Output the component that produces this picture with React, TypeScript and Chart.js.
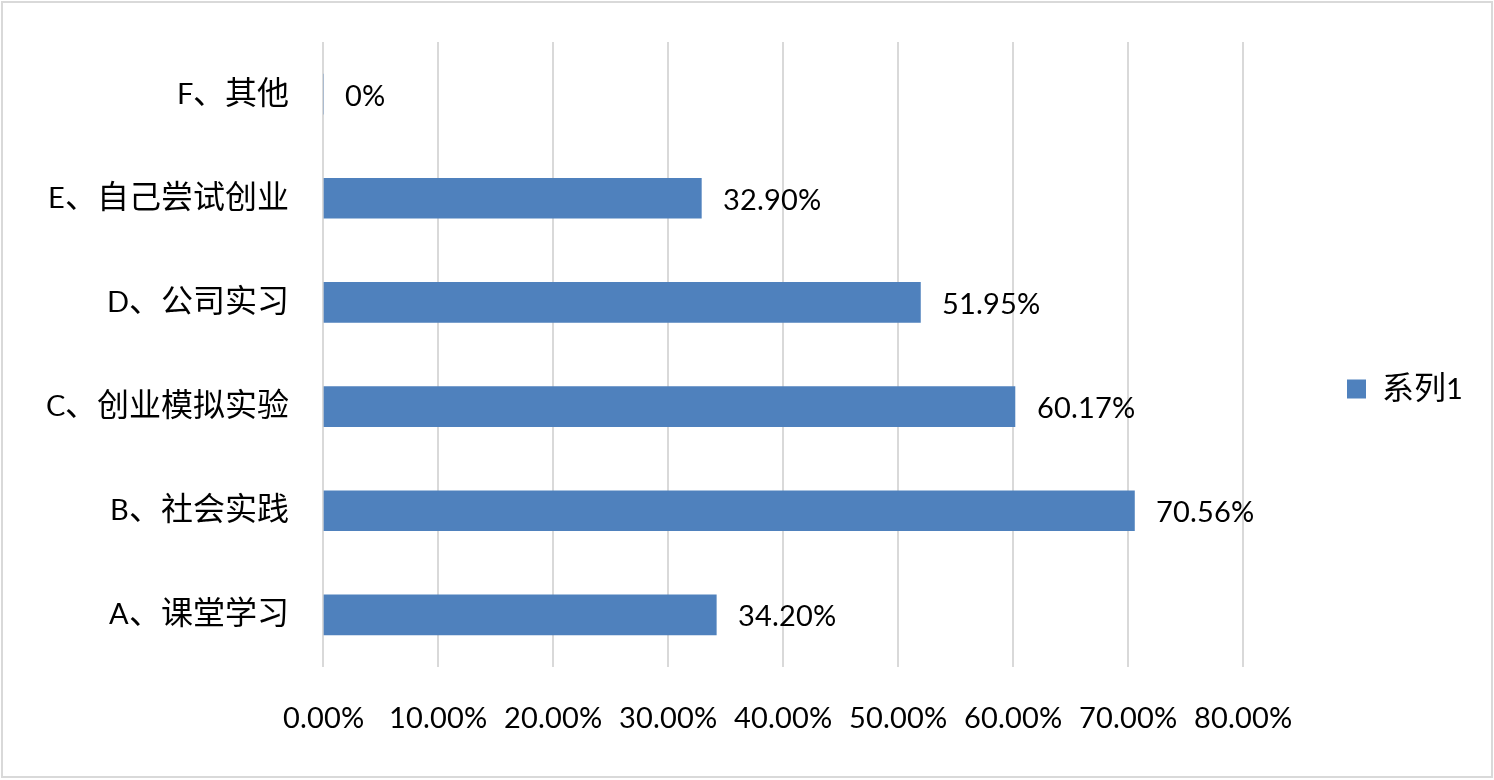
import React, { useEffect, useRef } from "react";
import { Chart, registerables } from "chart.js";

Chart.register(...registerables);

const categories = ["A、课堂学习", "B、社会实践", "C、创业模拟实验", "D、公司实习", "E、自己尝试创业", "F、其他"];
const values = [34.2, 70.56, 60.17, 51.95, 32.9, 0];
const seriesName = "系列1";
const xTicks = [0, 10, 20, 30, 40, 50, 60, 70, 80];

const FONT = "LatoAdj, 'Noto Sans CJK SC', sans-serif";
const FS = 32;
const BAR = "#4f81bd";

const valueLabels = {
  id: "valueLabels",
  afterDatasetsDraw(chart: any) {
    const ctx = chart.ctx;
    const meta = chart.getDatasetMeta(0);
    ctx.save();
    ctx.font = `${FS}px ${FONT}`;
    ctx.fillStyle = "#000";
    ctx.textAlign = "left";
    ctx.textBaseline = "middle";
    meta.data.forEach((el: any, i: number) => {
      const v = values[i];
      const txt = v === 0 ? "0%" : v.toFixed(2) + "%";
      ctx.fillText(txt, el.x + 22, el.y + 2);
    });
    ctx.restore();
  },
};

function ensureFontFace() {
  if (document.getElementById("lato-adj-style")) return;
  const st = document.createElement("style");
  st.id = "lato-adj-style";
  st.textContent = `@font-face { font-family: 'LatoAdj'; src: local('Lato'), local('Lato Regular'), local('Lato-Regular'); size-adjust: 92%; unicode-range: U+0000-02FF, U+2000-206F; }`;
  document.head.appendChild(st);
}

export default function App() {
  const ref = useRef<HTMLCanvasElement>(null);
  useEffect(() => {
    let chart: any = null;
    let cancelled = false;
    ensureFontFace();
    const make = () => {
      if (cancelled || !ref.current) return;
      chart = new Chart(ref.current, {
        type: "bar",
        data: {
          labels: categories,
          datasets: [
            {
              label: seriesName,
              data: values,
              backgroundColor: BAR,
              borderWidth: 0,
              barThickness: 40,
            },
          ],
        },
        options: {
          indexAxis: "y",
          responsive: false,
          animation: false,
          devicePixelRatio: 1,
          layout: { padding: { top: 42, bottom: 44, left: 0, right: 21 } },
          plugins: {
            tooltip: { enabled: false },
            legend: {
              position: "right",
              labels: {
                boxWidth: 19,
                boxHeight: 19,
                padding: 104,
                color: "#000",
                font: { family: FONT, size: FS },
              },
            },
          },
          scales: {
            x: {
              min: 0,
              max: 80,
              afterBuildTicks: (scale: any) => {
                scale.ticks = xTicks.map((v) => ({ value: v }));
              },
              afterFit: (scale: any) => {
                scale.height = 69;
              },
              ticks: {
                padding: 32,
                color: "#000",
                font: { family: FONT, size: FS },
                callback: (v: any) => Number(v).toFixed(2) + "%",
                maxRotation: 0,
              },
              grid: { color: "#d9d9d9", lineWidth: 2, drawTicks: false },
              border: { display: false },
            },
            y: {
              reverse: true,
              afterFit: (scale: any) => {
                scale.width = 323;
              },
              ticks: {
                padding: 6,
                color: "#000",
                font: { family: FONT, size: FS },
              },
              grid: { display: false, drawTicks: true, tickLength: 28 },
              border: { display: false },
            },
          },
        },
        plugins: [valueLabels],
      });
    };
    const fonts: any = (document as any).fonts;
    if (fonts && fonts.load) {
      Promise.all([
        fonts.load(`${FS}px LatoAdj`, "0123456789.%ABCDEF"),
        fonts.load(`${FS}px 'Noto Sans CJK SC'`, "系列课堂学习"),
      ])
        .catch(() => {})
        .then(make);
    } else {
      make();
    }
    return () => {
      cancelled = true;
      if (chart) chart.destroy();
    };
  }, []);
  return (
    <div style={{ position: "absolute", left: 0, top: 0, width: 1494, height: 780, background: "#fff" }}>
      <canvas ref={ref} width={1494} height={780} style={{ display: "block" }} />
      <div
        style={{
          position: "absolute",
          left: 1,
          top: 1,
          width: 1492,
          height: 777,
          border: "2px solid #d9d9d9",
          boxSizing: "border-box",
          pointerEvents: "none",
        }}
      />
    </div>
  );
}
